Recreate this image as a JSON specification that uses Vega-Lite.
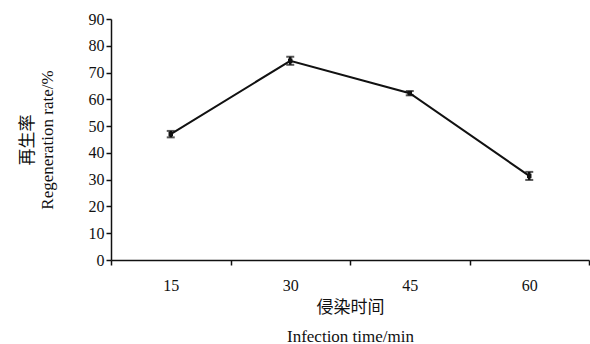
{
  "$schema": "https://vega.github.io/schema/vega-lite/v6.json",
  "autosize": "none",
  "width": 478,
  "height": 241,
  "padding": {"left": 111, "top": 19, "right": 1, "bottom": 84},
  "background": "white",
  "config": {
    "view": {"stroke": null},
    "font": "Liberation Serif, Noto Sans CJK SC",
    "axis": {
      "labelFont": "Liberation Serif",
      "labelFontSize": 16,
      "labelColor": "#111",
      "labelOverlap": false,
      "labelFlush": false,
      "titleFont": "Liberation Serif, Noto Sans CJK SC",
      "titleFontWeight": "normal",
      "titleColor": "#111",
      "domainColor": "#111",
      "domainWidth": 1.5,
      "tickColor": "#111",
      "tickWidth": 1.5,
      "grid": false
    }
  },
  "data": {
    "values": [
      {"time": "15", "rate": 47.0, "lo": 45.8, "hi": 48.2},
      {"time": "30", "rate": 74.4, "lo": 72.9, "hi": 75.9},
      {"time": "45", "rate": 62.3, "lo": 61.5, "hi": 63.1},
      {"time": "60", "rate": 31.4, "lo": 29.9, "hi": 32.9}
    ]
  },
  "encoding": {
    "x": {
      "field": "time",
      "type": "ordinal",
      "sort": null,
      "scale": {"type": "band", "paddingInner": 0, "paddingOuter": 0},
      "axis": {
        "labelAngle": 0,
        "tickBand": "extent",
        "tickSize": 5,
        "labelPadding": 12,
        "title": ["侵染时间", "Infection time/min"],
        "titleFontSize": 17,
        "titleLineHeight": 29,
        "titlePadding": 6
      }
    }
  },
  "layer": [
    {
      "mark": {"type": "line", "color": "#111", "strokeWidth": 2},
      "encoding": {
        "y": {
          "field": "rate",
          "type": "quantitative",
          "scale": {"domain": [0, 90], "nice": false},
          "axis": {"values": [0, 10, 20, 30, 40, 50, 60, 70, 80, 90], "tickSize": 5, "labelPadding": 2, "title": ["再生率", "Regeneration rate/%"], "titleFontSize": 17, "titleLineHeight": 20, "titlePadding": 32}
        }
      }
    },
    {
      "mark": {"type": "rule", "color": "#111", "strokeWidth": 2.5},
      "encoding": {
        "y": {"field": "lo", "type": "quantitative",
          "axis": {"values": [0, 10, 20, 30, 40, 50, 60, 70, 80, 90], "tickSize": 5, "labelPadding": 2, "title": ["再生率", "Regeneration rate/%"], "titleFontSize": 17, "titleLineHeight": 20, "titlePadding": 32}},
        "y2": {"field": "hi"}
      }
    },
    {
      "mark": {"type": "tick", "color": "#111", "size": 8, "thickness": 2},
      "encoding": {"y": {"field": "lo", "type": "quantitative",
        "axis": {"values": [0, 10, 20, 30, 40, 50, 60, 70, 80, 90], "tickSize": 5, "labelPadding": 2, "title": ["再生率", "Regeneration rate/%"], "titleFontSize": 17, "titleLineHeight": 20, "titlePadding": 32}}}
    },
    {
      "mark": {"type": "tick", "color": "#111", "size": 8, "thickness": 2},
      "encoding": {"y": {"field": "hi", "type": "quantitative",
        "axis": {"values": [0, 10, 20, 30, 40, 50, 60, 70, 80, 90], "tickSize": 5, "labelPadding": 2, "title": ["再生率", "Regeneration rate/%"], "titleFontSize": 17, "titleLineHeight": 20, "titlePadding": 32}}}
    },
    {
      "mark": {"type": "point", "shape": "square", "filled": true, "color": "#111", "size": 20, "opacity": 1},
      "encoding": {"y": {"field": "rate", "type": "quantitative",
        "axis": {"values": [0, 10, 20, 30, 40, 50, 60, 70, 80, 90], "tickSize": 5, "labelPadding": 2, "title": ["再生率", "Regeneration rate/%"], "titleFontSize": 17, "titleLineHeight": 20, "titlePadding": 32}}}
    }
  ]
}
